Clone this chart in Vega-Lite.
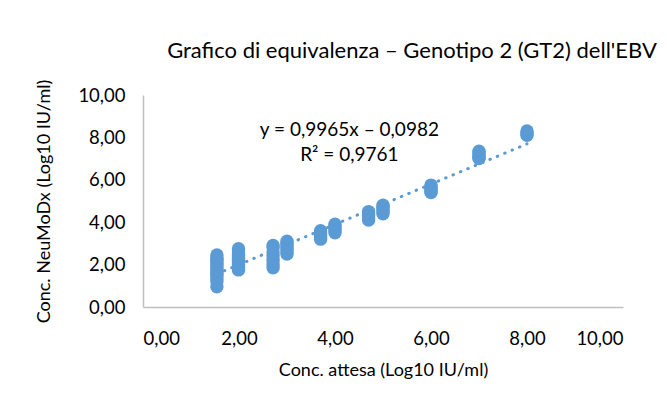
{
  "$schema": "https://vega.github.io/schema/vega-lite/v6.json",
  "autosize": "none",
  "width": 480,
  "height": 212,
  "padding": {"left": 143, "top": 95, "right": 44, "bottom": 102},
  "background": "white",
  "title": {
    "text": "Grafico di equivalenza – Genotipo 2 (GT2) dell'EBV",
    "font": "Lato",
    "fontSize": 22,
    "fontWeight": "normal",
    "color": "#000000",
    "anchor": "middle",
    "dx": 29,
    "offset": 16
  },
  "config": {
    "view": {"stroke": null},
    "font": "Lato",
    "axis": {
      "gridColor": "#D9D9D9",
      "gridWidth": 1.3,
      "domainColor": "#BFBFBF",
      "domainWidth": 1.5,
      "ticks": false,
      "labelFont": "Lato",
      "labelFontSize": 18.5,
      "labelColor": "#000000",
      "titleFont": "Lato",
      "titleFontSize": 18,
      "titleFontWeight": "normal",
      "titleColor": "#000000"
    }
  },
  "datasets": {
    "points": [
      {"x": 1.54, "y": 2.45}, {"x": 1.54, "y": 2.3}, {"x": 1.54, "y": 2.2}, {"x": 1.54, "y": 2.1}, {"x": 1.54, "y": 2.0}, {"x": 1.54, "y": 1.9}, {"x": 1.54, "y": 1.8}, {"x": 1.54, "y": 1.7}, {"x": 1.54, "y": 1.6}, {"x": 1.54, "y": 1.5}, {"x": 1.54, "y": 1.35}, {"x": 1.54, "y": 1.2}, {"x": 1.54, "y": 0.95},
      {"x": 1.99, "y": 2.75}, {"x": 1.99, "y": 2.6}, {"x": 1.99, "y": 2.5}, {"x": 1.99, "y": 2.4}, {"x": 1.99, "y": 2.3}, {"x": 1.99, "y": 2.2}, {"x": 1.99, "y": 2.1}, {"x": 1.99, "y": 2.0}, {"x": 1.99, "y": 1.9}, {"x": 1.99, "y": 1.8}, {"x": 1.99, "y": 1.75},
      {"x": 2.71, "y": 2.9}, {"x": 2.71, "y": 2.8}, {"x": 2.71, "y": 2.6}, {"x": 2.71, "y": 2.4}, {"x": 2.71, "y": 2.2}, {"x": 2.71, "y": 2.0}, {"x": 2.71, "y": 1.85},
      {"x": 3.0, "y": 3.1}, {"x": 3.0, "y": 3.0}, {"x": 3.0, "y": 2.9}, {"x": 3.0, "y": 2.8}, {"x": 3.0, "y": 2.7}, {"x": 3.0, "y": 2.6}, {"x": 3.0, "y": 2.5},
      {"x": 3.7, "y": 3.6}, {"x": 3.7, "y": 3.5}, {"x": 3.7, "y": 3.4}, {"x": 3.7, "y": 3.3}, {"x": 3.7, "y": 3.2},
      {"x": 4.0, "y": 3.9}, {"x": 4.0, "y": 3.8}, {"x": 4.0, "y": 3.7}, {"x": 4.0, "y": 3.6}, {"x": 4.0, "y": 3.5},
      {"x": 4.7, "y": 4.5}, {"x": 4.7, "y": 4.4}, {"x": 4.7, "y": 4.3}, {"x": 4.7, "y": 4.2}, {"x": 4.7, "y": 4.1},
      {"x": 5.0, "y": 4.8}, {"x": 5.0, "y": 4.7}, {"x": 5.0, "y": 4.6}, {"x": 5.0, "y": 4.5}, {"x": 5.0, "y": 4.4},
      {"x": 6.0, "y": 5.75}, {"x": 6.0, "y": 5.65}, {"x": 6.0, "y": 5.55}, {"x": 6.0, "y": 5.45}, {"x": 6.0, "y": 5.4},
      {"x": 7.0, "y": 7.35}, {"x": 7.0, "y": 7.25}, {"x": 7.0, "y": 7.15}, {"x": 7.0, "y": 7.05}, {"x": 7.0, "y": 7.0},
      {"x": 8.0, "y": 8.3}, {"x": 8.0, "y": 8.2}, {"x": 8.0, "y": 8.1}
    ],
    "notes": [
      {"label": "y = 0,9965x – 0,0982"}
    ]
  },
  "layer": [
    {
      "data": {"name": "notes"},
      "mark": {"type": "rect", "fill": "white", "stroke": null},
      "encoding": {
        "x": {"datum": 2.4, "type": "quantitative", "scale": {"domain": [0, 10], "nice": false, "zero": false},
          "axis": {"values": [0, 2, 4, 6, 8, 10], "labelExpr": "replace(format(datum.value, '.2f'), '.', ',')", "title": "Conc. attesa (Log10 IU/ml)", "labelPadding": 22, "titlePadding": 14}},
        "x2": {"datum": 6.25},
        "y": {"datum": 8.73, "type": "quantitative", "scale": {"domain": [0, 10], "nice": false, "zero": false},
          "axis": {"values": [0, 2, 4, 6, 8, 10], "labelExpr": "replace(format(datum.value, '.2f'), '.', ',')", "title": "Conc. NeuMoDx (Log10 IU/ml)", "labelPadding": 18, "titlePadding": 24}},
        "y2": {"datum": 6.65}
      }
    },
    {
      "data": {"name": "points"},
      "transform": [{"regression": "y", "on": "x", "extent": [1.54, 8.0]}],
      "mark": {"type": "line", "color": "#5B9BD5", "strokeWidth": 3, "strokeDash": [0.5, 7.5], "strokeCap": "round"},
      "encoding": {
        "x": {"field": "x", "type": "quantitative"},
        "y": {"field": "y", "type": "quantitative"}
      }
    },
    {
      "data": {"name": "points"},
      "mark": {"type": "circle", "color": "#5B9BD5", "opacity": 1, "size": 180},
      "encoding": {
        "x": {"field": "x", "type": "quantitative"},
        "y": {"field": "y", "type": "quantitative"}
      }
    },
    {
      "data": {"name": "notes"},
      "mark": {"type": "text", "font": "Lato", "fontSize": 19, "color": "#000000"},
      "encoding": {"x": {"datum": 4.3, "type": "quantitative"}, "y": {"datum": 8.35, "type": "quantitative"}, "text": {"field": "label"}}
    },
    {
      "data": {"name": "notes"},
      "mark": {"type": "text", "text": "R² = 0,9761", "font": "Lato", "fontSize": 19, "color": "#000000"},
      "encoding": {"x": {"datum": 4.3, "type": "quantitative"}, "y": {"datum": 7.17, "type": "quantitative"}}
    }
  ]
}
